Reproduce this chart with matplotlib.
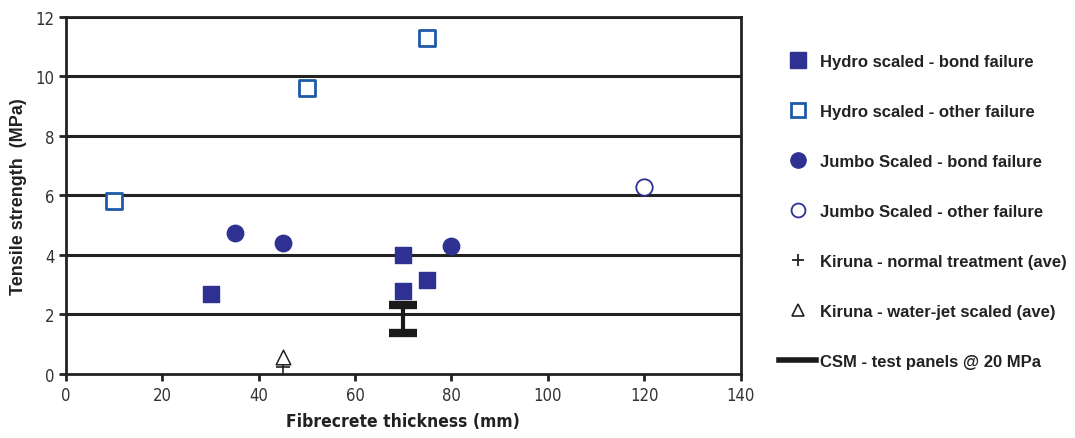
import matplotlib
matplotlib.use("Agg")
import matplotlib.pyplot as plt
from matplotlib.lines import Line2D

# data
hydro_bond_x = [30, 70, 70, 75]
hydro_bond_y = [2.7, 4.0, 2.8, 3.15]
hydro_other_x = [10, 50, 75]
hydro_other_y = [5.8, 9.6, 11.3]
jumbo_bond_x = [35, 45, 80]
jumbo_bond_y = [4.75, 4.4, 4.3]
jumbo_other_x = [120]
jumbo_other_y = [6.3]
kiruna_normal_x = [45]
kiruna_normal_y = [0.25]
kiruna_jet_x = [45]
kiruna_jet_y = [0.58]
csm_x = [70]
csm_lo = [1.38]
csm_hi = [2.33]

labels = ['Hydro scaled - bond failure', 'Hydro scaled - other failure',
          'Jumbo Scaled - bond failure', 'Jumbo Scaled - other failure',
          'Kiruna - normal treatment (ave)', 'Kiruna - water-jet scaled (ave)',
          'CSM - test panels @ 20 MPa']

navy = '#2e3192'
blue = '#1f5aa6'
narrow = dict(family=['DejaVu Sans'], stretch='condensed')

fig = plt.figure(figsize=(10.75, 4.39), dpi=100)
ax = fig.add_axes([0.0614, 0.1458, 0.6275, 0.8132])

for y in range(2, 13, 2):
    ax.axhline(y, color='#222222', lw=2.2, zorder=1)

ax.scatter(hydro_bond_x, hydro_bond_y, marker='s', s=140, color=navy, zorder=3)
ax.scatter(hydro_other_x, hydro_other_y, marker='s', s=120, facecolor='white',
           edgecolor=blue, linewidth=2, zorder=3)
ax.scatter(jumbo_bond_x, jumbo_bond_y, marker='o', s=140, color=navy, zorder=3)
ax.scatter(jumbo_other_x, jumbo_other_y, marker='o', s=140, facecolor='white',
           edgecolor=navy, linewidth=1.3, zorder=3)
ax.scatter(kiruna_normal_x, kiruna_normal_y, marker='+', s=110, color='#222222',
           linewidth=1.2, zorder=3)
ax.scatter(kiruna_jet_x, kiruna_jet_y, marker='^', s=110, facecolor='white',
           edgecolor='#222222', linewidth=1.1, zorder=4)

mid = [(a + b) / 2 for a, b in zip(csm_lo, csm_hi)]
err = [(b - a) / 2 for a, b in zip(csm_lo, csm_hi)]
ax.errorbar(csm_x, mid, yerr=err, fmt='none', ecolor='#1a1a1a', elinewidth=3,
            capsize=10, capthick=6, zorder=3)

ax.set_xlim(0, 140)
ax.set_ylim(0, 12)
ax.set_xticks(range(0, 141, 20))
ax.set_yticks(range(0, 13, 2))
for s in ax.spines.values():
    s.set_linewidth(2)
    s.set_color('#222222')
ax.tick_params(direction='out', length=5, width=2, color='#222222',
               labelsize=12, labelcolor='#333333')
for lab in ax.get_xticklabels() + ax.get_yticklabels():
    lab.set_family('DejaVu Sans')
    lab.set_stretch('condensed')

ax.set_xlabel('Fibrecrete thickness (mm)', fontsize=12.5, fontweight='bold',
              color='#222222', labelpad=6, **narrow)
ax.set_ylabel('Tensile strength  (MPa)', fontsize=13, fontweight='bold',
              family=['Liberation Sans', 'DejaVu Sans'], color='#222222', labelpad=6)

handles = [
    Line2D([], [], ls='none', marker='s', ms=11, color=navy),
    Line2D([], [], ls='none', marker='s', ms=10, mfc='white', mec=blue, mew=2),
    Line2D([], [], ls='none', marker='o', ms=11, color=navy),
    Line2D([], [], ls='none', marker='o', ms=10, mfc='white', mec=navy, mew=1.3),
    Line2D([], [], ls='none', marker='+', ms=9, color='#222222', mew=1.3),
    Line2D([], [], ls='none', marker='^', ms=8, mfc='white', mec='#222222', mew=1.2),
    Line2D([], [], color='#1a1a1a', lw=4),
]
fig.legend(handles, labels, loc='upper left', bbox_to_anchor=(0.711, 0.909),
           frameon=False, handlelength=2.2, handletextpad=0.25, labelspacing=2.1,
           prop={'family': ['Liberation Sans', 'DejaVu Sans'], 'weight': 'bold', 'size': 12},
           labelcolor='#222222')

fig.savefig('out.png', dpi=100)
